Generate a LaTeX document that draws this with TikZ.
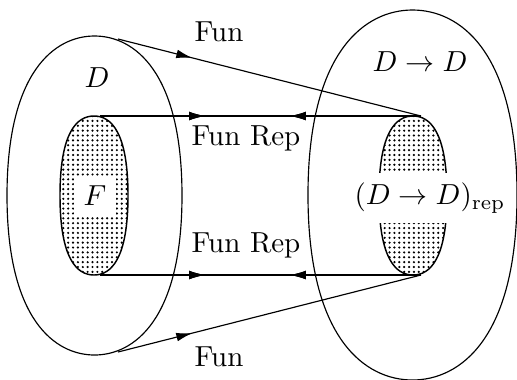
\documentclass[tikz,border=0pt]{standalone}
\usetikzlibrary{arrows.meta,decorations.markings,patterns}
\pgfdeclarepatternformonly{fdots}{\pgfqpoint{-1pt}{-1pt}}{\pgfqpoint{1pt}{1pt}}{\pgfqpoint{1.68pt}{1.68pt}}{\pgfpathcircle{\pgfqpoint{0pt}{0pt}}{0.42pt}\pgfusepath{fill}}
\newcommand\ovalshape[6]{% cx cy a b kh kv
  ({#1},{#2-#4}) .. controls ({#1+#5*#3},{#2-#4}) and ({#1+#3},{#2-#6*#4}) .. ({#1+#3},{#2})
  .. controls ({#1+#3},{#2+#6*#4}) and ({#1+#5*#3},{#2+#4}) .. ({#1},{#2+#4})
  .. controls ({#1-#5*#3},{#2+#4}) and ({#1-#3},{#2+#6*#4}) .. ({#1-#3},{#2})
  .. controls ({#1-#3},{#2-#6*#4}) and ({#1-#5*#3},{#2-#4}) .. cycle}
\tikzset{
  tip/.tip={Latex[length=5.5pt,width=3pt]},
  fwd/.style={decoration={markings,mark=at position #1 with {\arrow{tip}}},postaction={decorate}},
  bwd/.style={decoration={markings,mark=at position #1 with {\arrowreversed{tip}}},postaction={decorate}},
  lab/.style={inner sep=2pt},
  boxlab/.style={fill=white,inner sep=3.33pt},
  region/.style={line width=0.4pt},
  shaded/.style={line width=0.5pt,pattern=fdots}
}
\begin{document}
\begin{tikzpicture}[x=0.345pt,y=-0.345pt]
\useasboundingbox (0,0) rectangle (517,379);
% big regions
\draw[region] \ovalshape{94.5}{195.5}{87.5}{159.5}{0.45}{0.78};
\draw[region] \ovalshape{412.5}{195}{104.5}{185}{0.45}{0.78};
% shaded inner regions
\path[shaded,draw] \ovalshape{94}{195.5}{34}{79.5}{0.5}{0.8};
\path[shaded,draw] \ovalshape{413}{195.5}{34}{79.5}{0.5}{0.8};
% labels
\node[lab] (D) at (97,78) {$D$};
\node[lab] (DD) at (420,62) {$D\to D$};
\node[boxlab] (F) at (95,196) {$F$};
\node[boxlab] (rep) at (430,198) {$(D\to D)_{\mathrm{rep}}$};
\node[lab] (funtop) at (219,32) {Fun};
\node[lab] (funbot) at (219,357) {Fun};
\node[lab] (frtop) at (246,138) {Fun\ Rep};
\node[lab] (frbot) at (246,245) {Fun\ Rep};
% connector end points
\coordinate (ftl) at (118,39);
\coordinate (fbl) at (118,352);
\coordinate (htl) at (100,116);
\coordinate (hbl) at (100,275);
\coordinate (htr) at (421,116);
\coordinate (hbr) at (421,275);
% connectors
\draw[fwd=0.245] (ftl) -- (htr);
\draw[fwd=0.245] (fbl) -- (hbr);
\draw[fwd=0.327,bwd=0.592] (htl) -- (htr);
\draw[fwd=0.327,bwd=0.592] (hbl) -- (hbr);
\end{tikzpicture}
\end{document}
